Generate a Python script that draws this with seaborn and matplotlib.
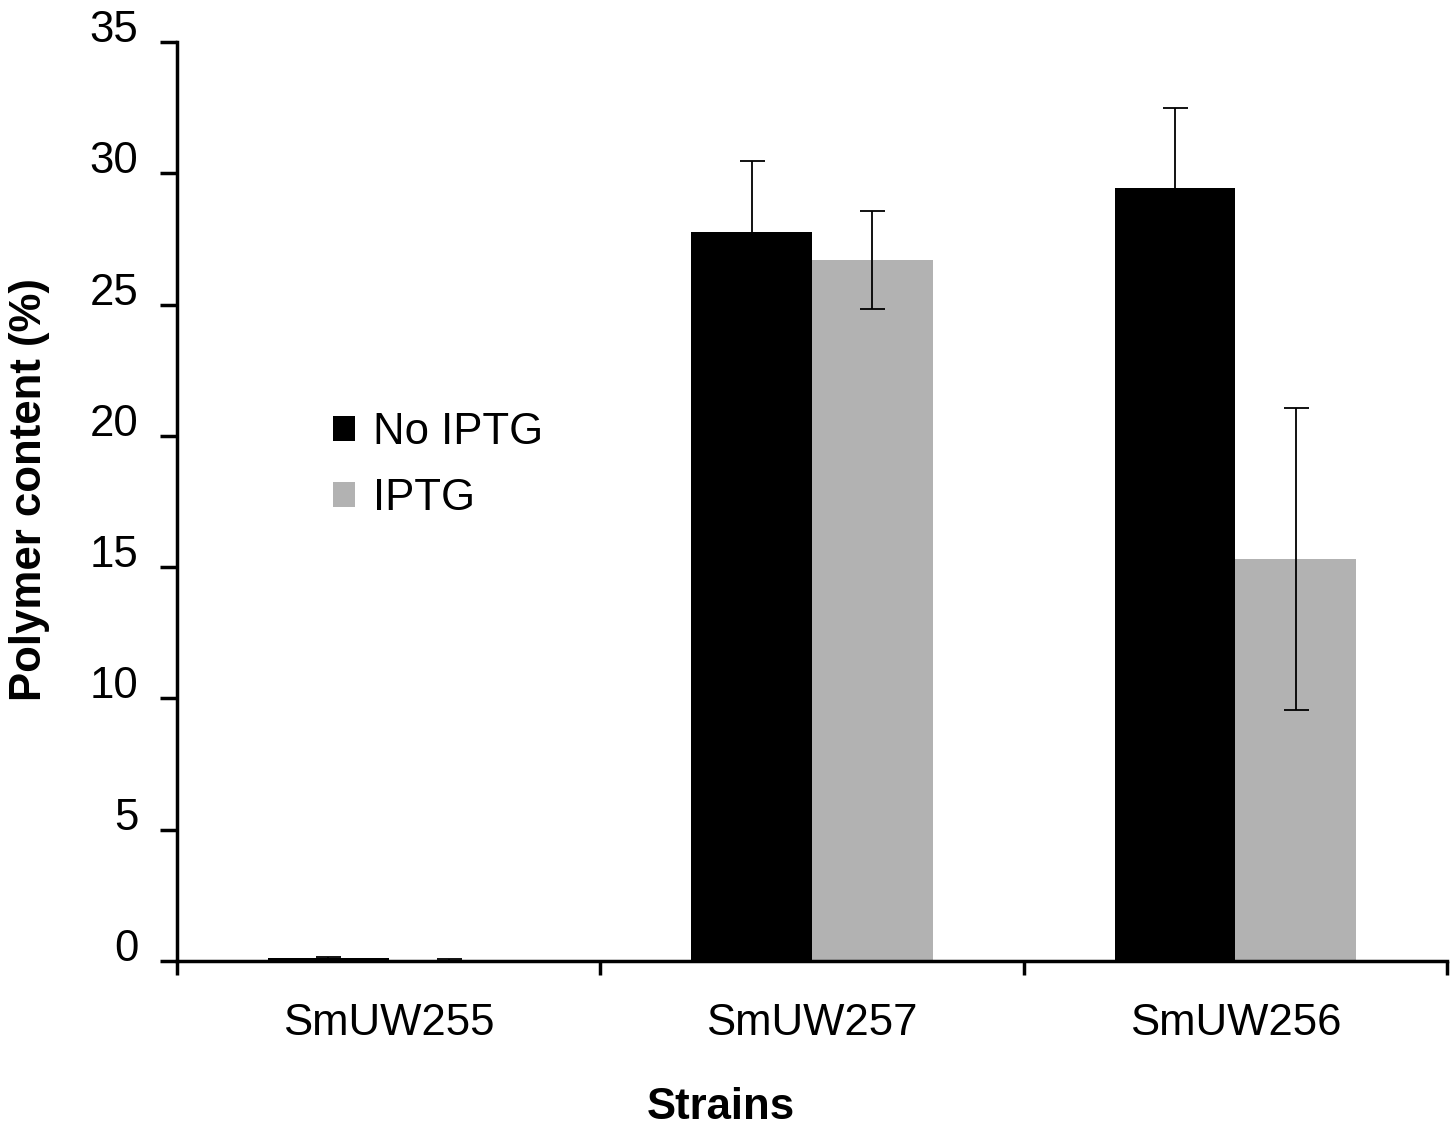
import pandas as pd
import seaborn as sns
import matplotlib.pyplot as plt
import matplotlib.transforms as mtransforms

# Data
strains = ['SmUW255', 'SmUW257', 'SmUW256']
no_iptg = [0.12, 27.75, 29.45]
no_iptg_err = [0.05, 2.7, 3.05]
iptg = [0.03, 26.7, 15.3]
iptg_err = [0.05, 1.85, 5.75]
conditions = ['No IPTG', 'IPTG']
colors = ['#000000', '#b2b2b2']

df = pd.DataFrame({
    'Strain': strains * 2,
    'Condition': [conditions[0]] * 3 + [conditions[1]] * 3,
    'Value': no_iptg + iptg,
    'Err': no_iptg_err + iptg_err,
})

plt.rcParams['font.family'] = ['Liberation Sans', 'DejaVu Sans']
fs = 31.5

fig = plt.figure(figsize=(14.56, 11.26), dpi=100)
ax = fig.add_axes([0.1216, 0.1465, 0.8722, 0.8162])

sns.barplot(data=df, x='Strain', y='Value', hue='Condition', order=strains,
            hue_order=conditions, palette=colors, width=0.57, gap=0,
            errorbar=None, saturation=1, ax=ax)

# error bars at bar centres
for cont, cond in zip(ax.containers, conditions):
    sub = df[df['Condition'] == cond].set_index('Strain').loc[strains]
    xs = [p.get_x() + p.get_width() / 2 for p in cont.patches]
    ax.errorbar(xs, sub['Value'], yerr=sub['Err'], fmt='none', ecolor='black',
                elinewidth=1.3, capsize=9, capthick=1.3, zorder=3)

ax.set_ylim(0, 35)
ax.set_xlim(-0.5, 2.5)
ax.set_yticks(range(0, 36, 5))
ax.set_xticks([-0.5, 0.5, 1.5, 2.5], minor=True)
ax.tick_params(axis='x', which='major', length=0, pad=30, labelsize=fs)
ax.tick_params(axis='x', which='minor', length=10, width=2.5, direction='out')
ax.tick_params(axis='y', length=12, width=2.5, direction='out', pad=16, labelsize=fs)

# Excel-style labels sitting slightly above their ticks
offset = mtransforms.ScaledTranslation(0, 16 / 100, fig.dpi_scale_trans)
for lab in ax.get_yticklabels():
    lab.set_transform(lab.get_transform() + offset)

for s in ['top', 'right']:
    ax.spines[s].set_visible(False)
for s in ['left', 'bottom']:
    ax.spines[s].set_linewidth(2.5)

ax.set_xlabel('Strains', fontsize=fs, fontweight='bold')
ax.set_ylabel('Polymer content (%)', fontsize=fs, fontweight='bold')
ax.xaxis.set_label_coords(0.428, -0.159)
ax.yaxis.set_label_coords(-0.116, 0.5125)
ax.xaxis.label.set_va('center')
ax.yaxis.label.set_va('center')

ax.legend(loc='upper left', bbox_to_anchor=(0.092, 0.64), frameon=False,
          fontsize=fs, handlelength=0.5, handleheight=0.5, handletextpad=0.4,
          labelspacing=0.57)

fig.savefig('out.png', dpi=100)
